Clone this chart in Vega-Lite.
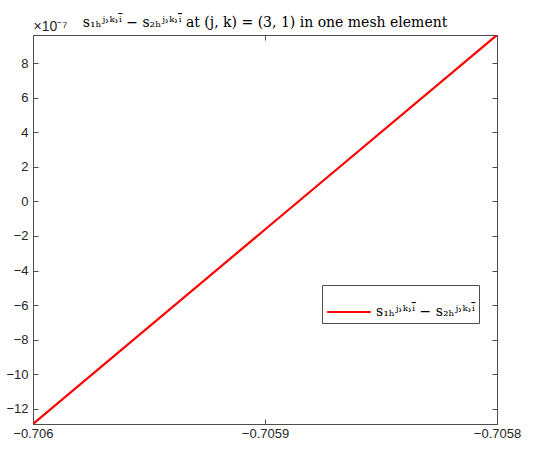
{
  "$schema": "https://vega.github.io/schema/vega-lite/v6.json",
  "width": 464,
  "height": 389,
  "autosize": {"type": "none"},
  "padding": {"left": 33, "top": 35, "right": 54, "bottom": 29},
  "background": "white",
  "config": {
    "view": {"stroke": "#4d4d4d", "strokeWidth": 1},
    "axis": {
      "grid": false,
      "domainColor": "#4d4d4d",
      "tickColor": "#4d4d4d",
      "labelColor": "#262626",
      "labelFont": "Liberation Sans",
      "labelFontSize": 13,
      "tickSize": -5,
      "labelFlush": false
    }
  },
  "title": {
    "text": "s₁ₕʲ˒ᵏ˒ⁱ̄ − s₂ₕʲ˒ᵏ˒ⁱ̄  at (j, k) = (3, 1) in one mesh element",
    "font": "DejaVu Serif",
    "fontSize": 14,
    "fontWeight": "normal",
    "color": "#000000",
    "offset": -11,
    "anchor": "middle"
  },
  "data": {
    "values": [
      {"x": -0.706, "y": -1.287e-6, "series": "s₁ₕʲ˒ᵏ˒ⁱ̄ − s₂ₕʲ˒ᵏ˒ⁱ̄"},
      {"x": -0.7059, "y": -1.625e-7, "series": "s₁ₕʲ˒ᵏ˒ⁱ̄ − s₂ₕʲ˒ᵏ˒ⁱ̄"},
      {"x": -0.7058, "y": 9.62e-7, "series": "s₁ₕʲ˒ᵏ˒ⁱ̄ − s₂ₕʲ˒ᵏ˒ⁱ̄"}
    ]
  },
  "layer": [
    {
      "mark": {"type": "line", "strokeWidth": 2.2, "clip": true},
      "encoding": {
        "x": {
          "field": "x", "type": "quantitative",
          "scale": {"domain": [-0.706, -0.7058], "nice": false, "zero": false},
          "axis": {"values": [-0.706, -0.7059, -0.7058], "labelExpr": "format(datum.value, '.4~f')", "title": null, "labelPadding": 8}
        },
        "y": {
          "field": "y", "type": "quantitative",
          "scale": {"domain": [-1.287e-6, 9.62e-7], "nice": false, "zero": false},
          "axis": {
            "values": [-1.2e-6, -1e-6, -8e-7, -6e-7, -4e-7, -2e-7, 0, 2e-7, 4e-7, 6e-7, 8e-7],
            "labelExpr": "format(round(datum.value*1e7), 'd')",
            "labelPadding": 10,
            "title": "×10⁻⁷",
            "titleAngle": 0,
            "titleAlign": "left",
            "titleBaseline": "bottom",
            "titleX": 0,
            "titleY": -2,
            "titleFont": "Liberation Sans",
            "titleFontSize": 14,
            "titleFontWeight": "normal",
            "titleColor": "#262626"
          }
        },
        "color": {
          "field": "series", "type": "nominal",
          "scale": {"range": ["#ff0000"]},
          "legend": {
            "title": null,
            "orient": "none",
            "legendX": 289,
            "legendY": 250,
            "strokeColor": "#4d4d4d",
            "fillColor": "white",
            "padding": 4,
            "symbolType": "stroke",
            "symbolSize": 1900,
            "symbolStrokeWidth": 2,
            "labelFont": "DejaVu Serif",
            "labelFontSize": 14,
            "labelColor": "#000000",
            "labelLimit": 300
          }
        }
      }
    },
    {
      "mark": {"type": "point", "opacity": 0},
      "encoding": {
        "x": {
          "field": "x", "type": "quantitative",
          "axis": {"orient": "top", "values": [-0.706, -0.7059, -0.7058], "labels": false, "title": null, "domain": false}
        },
        "y": {
          "field": "y", "type": "quantitative",
          "axis": {"orient": "right", "values": [-1.2e-6, -1e-6, -8e-7, -6e-7, -4e-7, -2e-7, 0, 2e-7, 4e-7, 6e-7, 8e-7], "labels": false, "title": null, "domain": false}
        }
      }
    }
  ],
  "resolve": {"axis": {"x": "independent", "y": "independent"}}
}
